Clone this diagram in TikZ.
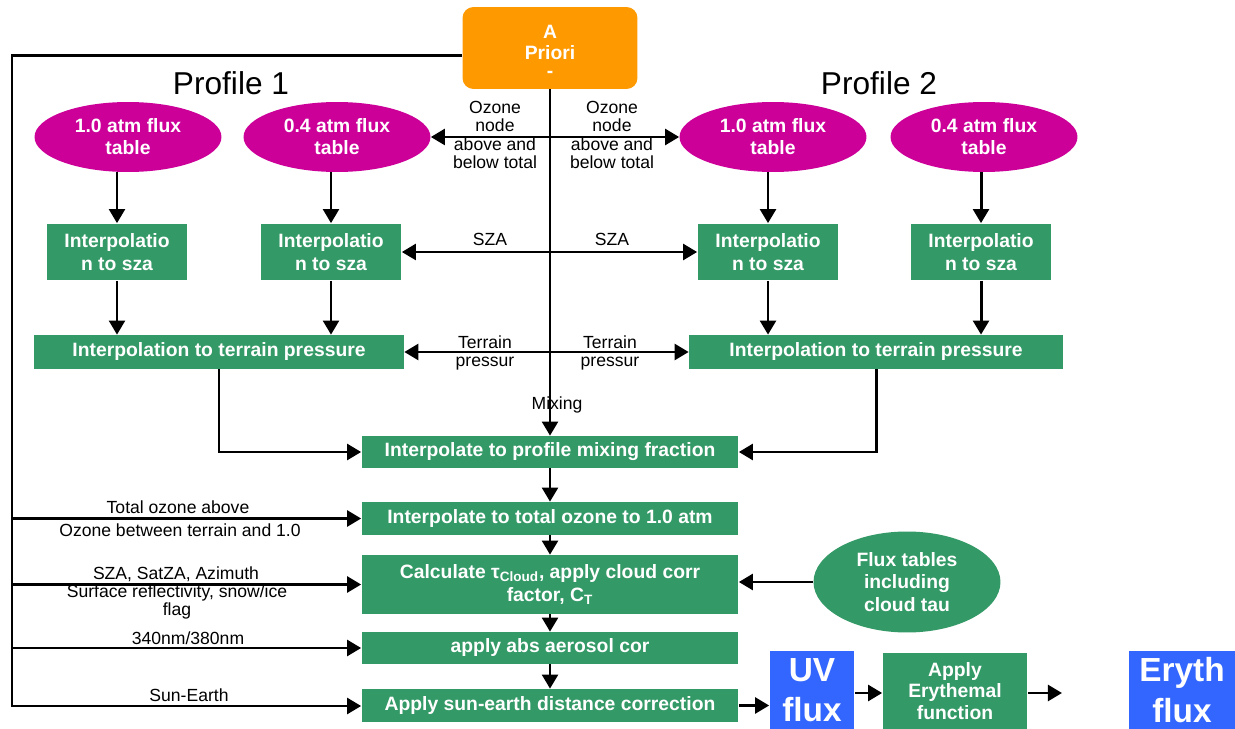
\documentclass[tikz,border=0pt]{standalone}
\usepackage{fontspec}
\setmainfont{Liberation Sans}
\usepackage{tikz}
\usetikzlibrary{
  arrows.meta,
  positioning,
  calc,
  shapes.geometric,
}
\definecolor{procgreen}{RGB}{51,153,102}
\definecolor{tabmagenta}{RGB}{204,0,153}
\definecolor{priororange}{RGB}{255,153,0}
\definecolor{fluxblue}{RGB}{51,102,255}

\begin{document}
\begin{tikzpicture}[
  x=0.02cm, y=-0.02cm,
  every node/.style={align=center},
  proc/.style={fill=procgreen, text=white, inner sep=1pt,
               font=\fontsize{11}{12.8}\selectfont\bfseries},
  fluxtab/.style={ellipse, fill=tabmagenta, text=white, inner sep=0pt,
                  minimum width=3.74cm, minimum height=1.4cm,
                  font=\fontsize{11}{12.6}\selectfont\bfseries},
  outbox/.style={fill=fluxblue, text=white, inner sep=0pt,
                 minimum height=1.56cm,
                 font=\fontsize{19}{23}\selectfont\bfseries},
  lbl/.style={inner sep=0pt, font=\fontsize{10}{10.6}\selectfont},
  flow/.style={line width=1.7pt, -{Triangle[length=8pt,width=9pt]}},
]
\useasboundingbox (0,0) rectangle (1235,729);

\node[fill=priororange, text=white, rounded corners=0.22cm,
      minimum width=3.5cm, minimum height=1.64cm, inner sep=0pt,
      font=\fontsize{11}{11.5}\selectfont\bfseries]
  (apri) at (550,48)
  {\raisebox{-3.5pt}[\height][\depth]{\begin{tabular}{@{}c@{}}
    A\\Priori\\[-1pt]-\end{tabular}}};

\node[font=\fontsize{18}{20}\selectfont] (prof1) at (231,83) {Profile 1};
\node[font=\fontsize{18}{20}\selectfont] (prof2) at (879,83) {Profile 2};

\node[fluxtab] (p1a) at (128,137) {1.0 atm flux\\table};
\node[fluxtab] (p1b) at (337,137) {0.4 atm flux\\table};
\node[fluxtab] (p2a) at (773,137) {1.0 atm flux\\table};
\node[fluxtab] (p2b) at (984,137) {0.4 atm flux\\table};

\foreach \n/\xx in {s1a/117,s1b/331,s2a/768,s2b/981}{
  \node[proc, minimum width=2.82cm, minimum height=1.14cm]
    (\n) at (\xx,252) {Interpolatio\\n to sza};
}

\node[proc, minimum width=7.4cm, minimum height=0.68cm]
  (t1) at (219,352) {Interpolation to terrain pressure};
\node[proc, minimum width=7.48cm, minimum height=0.68cm]
  (t2) at (876,352) {Interpolation to terrain pressure};

\node[proc, minimum width=7.54cm, minimum height=0.64cm]
  (mix) at (550,452) {Interpolate to profile mixing fraction};
\node[proc, minimum width=7.54cm, minimum height=0.66cm]
  (tot) at (550,518.5) {Interpolate to total ozone to 1.0 atm};
\node[proc, minimum width=7.54cm, minimum height=1.18cm]
  (calc) at (550,584.5)
  {Calculate τ\textsubscript{Cloud}, apply cloud corr\\factor, C\textsubscript{T}};
\node[proc, minimum width=7.54cm, minimum height=0.64cm]
  (aero) at (550,648) {apply abs aerosol cor};
\node[proc, minimum width=7.54cm, minimum height=0.66cm]
  (sun) at (550,705.5) {Apply sun-earth distance correction};

\node[ellipse, fill=procgreen, text=white, inner sep=0pt,
      minimum width=3.74cm, minimum height=2.02cm,
      font=\fontsize{11}{12.8}\selectfont\bfseries]
  (flx) at (907,582) {Flux tables\\including\\cloud tau};

\node[outbox, minimum width=1.7cm] (uv) at (812,690) {UV\\flux};
\node[proc, minimum width=2.9cm, minimum height=1.52cm,
      font=\fontsize{11}{12.2}\selectfont\bfseries]
  (ery) at (955,691) {Apply\\Erythemal\\function};
\node[outbox, minimum width=2.12cm] (eflux) at (1182,690) {Eryth\\flux};

% labels
\node[lbl] (ozl) at (495,135) {Ozone\\node\\above and\\below total};
\node[lbl] (ozr) at (612,135) {Ozone\\node\\above and\\below total};
\node[lbl] (szal) at (490,239) {SZA};
\node[lbl] (szar) at (612,239) {SZA};
\node[lbl] (terl) at (485,353) {Terrain\\pressur};
\node[lbl] (terr) at (610,353) {Terrain\\pressur};
\node[lbl] (mixl) at (557,405) {Mixing};
\node[lbl] (totl) at (178,507) {Total ozone above};
\node[lbl] (betl) at (180,530) {Ozone between terrain and 1.0};
\node[lbl] (geol) at (176,574) {SZA, SatZA, Azimuth};
\node[lbl] (refl) at (177,602) {Surface reflectivity, snow/ice\\flag};
\node[lbl] (wavl) at (188,638) {340nm/380nm};
\node[lbl] (sunl) at (189,695) {Sun-Earth};

\coordinate (rail) at (12,706);
\coordinate (eryend) at (1062,693);

% connectors
\draw[flow] ([yshift=-4.5pt]apri.west) -| (rail) -- (rail -| sun.west);
\foreach \n in {tot,calc,aero}{
  \draw[flow] (rail |- \n.west) -- (\n.west);
}
\draw[flow] (apri) -- (mix);
\draw[flow] (apri.south |- p1b.east) -- (p1b.east);
\draw[flow] (apri.south |- p2a.west) -- (p2a.west);
\draw[flow] (apri.south |- s1b.east) -- (s1b.east);
\draw[flow] (apri.south |- s2a.west) -- (s2a.west);
\draw[flow] (apri.south |- t1.east) -- (t1.east);
\draw[flow] (apri.south |- t2.west) -- (t2.west);

\foreach \a/\b/\c in {p1a/s1a/t1,p1b/s1b/t1,p2a/s2a/t2,p2b/s2b/t2}{
  \draw[flow] (\a.south -| \b.north) -- (\b.north);
  \draw[flow] (\b.south) -- (\b.south |- \c.north);
}

\draw[flow] (t1.south) |- (mix.west);
\draw[flow] (t2.south) |- (mix.east);
\draw[flow] (mix) -- (tot);
\draw[flow] (tot) -- (calc);
\draw[flow] (calc) -- (aero);
\draw[flow] (aero) -- (sun);
\draw[flow] (flx.west) -- (calc.east |- flx.west);
\draw[flow] (sun.east) -- (uv.west |- sun.east);
\draw[flow] (uv.east |- eryend) -- (ery.west |- eryend);
\draw[flow] (ery.east |- eryend) -- (eryend);

\end{tikzpicture}
\end{document}
